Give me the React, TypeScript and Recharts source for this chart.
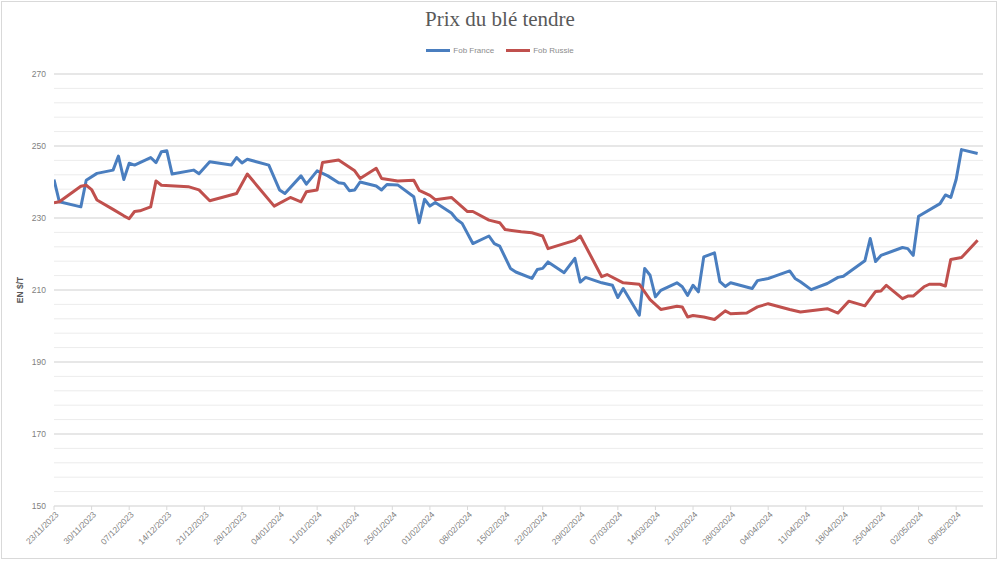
import React from 'react';
import { LineChart, Line, XAxis, YAxis, CartesianGrid, ReferenceLine } from 'recharts';

const franceDates = [
  '2023-11-23','2023-11-24','2023-11-28','2023-11-29','2023-12-01','2023-12-04','2023-12-05','2023-12-06','2023-12-07','2023-12-08',
  '2023-12-11','2023-12-12','2023-12-13','2023-12-14','2023-12-15','2023-12-19','2023-12-20','2023-12-22','2023-12-26','2023-12-27',
  '2023-12-28','2023-12-29','2024-01-02','2024-01-04','2024-01-05','2024-01-08','2024-01-09','2024-01-11','2024-01-13','2024-01-15',
  '2024-01-16','2024-01-17','2024-01-18','2024-01-19','2024-01-22','2024-01-23','2024-01-24','2024-01-26','2024-01-29','2024-01-30',
  '2024-01-31','2024-02-01','2024-02-02','2024-02-05','2024-02-06','2024-02-07','2024-02-09','2024-02-12','2024-02-13','2024-02-14',
  '2024-02-16','2024-02-17','2024-02-20','2024-02-21','2024-02-22','2024-02-23','2024-02-26','2024-02-28','2024-02-29','2024-03-01',
  '2024-03-04','2024-03-06','2024-03-07','2024-03-08','2024-03-11','2024-03-12','2024-03-13','2024-03-14','2024-03-15','2024-03-18',
  '2024-03-19','2024-03-20','2024-03-21','2024-03-22','2024-03-23','2024-03-25','2024-03-26','2024-03-27','2024-03-28','2024-04-01',
  '2024-04-02','2024-04-04','2024-04-05','2024-04-08','2024-04-09','2024-04-10','2024-04-12','2024-04-15','2024-04-17','2024-04-18',
  '2024-04-22','2024-04-23','2024-04-24','2024-04-25','2024-04-29','2024-04-30','2024-05-01','2024-05-02','2024-05-06','2024-05-07',
  '2024-05-08','2024-05-09','2024-05-10','2024-05-13',
];
const franceValues = [
  240.7,234.5,233.1,240.5,242.4,243.3,247.2,240.7,245.2,244.7,
  246.8,245.4,248.4,248.7,242.2,243.3,242.3,245.6,244.7,246.8,
  245.3,246.3,244.7,237.8,236.8,241.7,239.4,243.1,241.7,239.8,
  239.6,237.6,237.8,240.0,238.9,237.8,239.3,239.2,235.9,228.7,
  235.2,233.3,234.3,231.4,229.6,228.5,222.9,225.0,222.9,222.2,
  216.0,215.0,213.2,215.7,216.0,217.8,214.8,218.8,212.2,213.5,
  212.0,211.3,207.9,210.4,203.0,216.0,214.1,208.1,209.9,212.0,
  210.9,208.5,211.3,209.5,219.2,220.3,212.3,211.0,212.0,210.4,
  212.6,213.2,213.7,215.3,213.2,212.3,210.1,211.8,213.5,213.8,
  218.1,224.3,217.9,219.6,221.8,221.5,219.6,230.5,234.0,236.4,
  235.7,240.7,249.0,247.9,
];

const russiaDates = [
  '2023-11-23','2023-11-24','2023-11-28','2023-11-29','2023-11-30','2023-12-01','2023-12-04','2023-12-06','2023-12-07','2023-12-08',
  '2023-12-09','2023-12-11','2023-12-12','2023-12-13','2023-12-18','2023-12-20','2023-12-22','2023-12-27','2023-12-29','2024-01-03',
  '2024-01-06','2024-01-08','2024-01-09','2024-01-11','2024-01-12','2024-01-15','2024-01-18','2024-01-19','2024-01-22','2024-01-23',
  '2024-01-26','2024-01-29','2024-01-30','2024-02-01','2024-02-02','2024-02-05','2024-02-08','2024-02-09','2024-02-12','2024-02-14',
  '2024-02-15','2024-02-18','2024-02-20','2024-02-22','2024-02-23','2024-02-26','2024-02-28','2024-02-29','2024-03-04','2024-03-05',
  '2024-03-08','2024-03-11','2024-03-13','2024-03-15','2024-03-18','2024-03-19','2024-03-20','2024-03-21','2024-03-23','2024-03-25',
  '2024-03-27','2024-03-28','2024-03-31','2024-04-02','2024-04-04','2024-04-08','2024-04-10','2024-04-15','2024-04-17','2024-04-19',
  '2024-04-22','2024-04-24','2024-04-25','2024-04-26','2024-04-29','2024-04-30','2024-05-01','2024-05-03','2024-05-04','2024-05-06',
  '2024-05-07','2024-05-08','2024-05-10','2024-05-13',
];
const russiaValues = [
  234.2,234.5,238.8,239.1,237.9,235.0,232.4,230.6,229.8,231.8,
  232.0,233.1,240.3,239.1,238.7,237.8,234.8,236.8,242.2,233.3,
  235.7,234.5,237.3,237.8,245.4,246.1,243.1,241.0,243.8,241.0,
  240.3,240.5,237.7,236.3,235.1,235.7,231.8,231.8,229.4,228.7,
  226.8,226.2,225.9,225.0,221.5,222.9,223.8,225.0,213.7,214.3,
  212.0,211.6,207.3,204.6,205.5,205.3,202.5,202.9,202.5,201.8,
  204.2,203.4,203.6,205.3,206.2,204.6,203.9,204.8,203.6,206.9,
  205.6,209.6,209.7,211.3,207.6,208.3,208.3,210.9,211.6,211.6,
  211.1,218.5,219.0,223.8,
];

const seriesNames = ['Fob France', 'Fob Russie'];
const seriesColors = ['#4a7ebf', '#c0504d'];
const yMajorTicks = [150, 170, 190, 210, 230, 250, 270];
const yMinorTicks = [150,154,158,162,166,170,174,178,182,186,190,194,198,202,206,210,214,218,222,226,230,234,238,242,246,250,254,258,262,266,270];
const startDate = '2023-11-23';
const tickDates = [
  '2023-11-23','2023-11-30','2023-12-07','2023-12-14','2023-12-21','2023-12-28','2024-01-04','2024-01-11','2024-01-18',
  '2024-01-25','2024-02-01','2024-02-08','2024-02-15','2024-02-22','2024-02-29','2024-03-07','2024-03-14','2024-03-21',
  '2024-03-28','2024-04-04','2024-04-11','2024-04-18','2024-04-25','2024-05-02','2024-05-09',
];

const DAY = 86400000;
const toUTC = (s: string) => {
  const [y, m, d] = s.split('-').map(Number);
  return Date.UTC(y, m - 1, d);
};
const base = toUTC(startDate);
const dayIndex = (s: string) => Math.round((toUTC(s) - base) / DAY);
const fmtDay = (n: number) => {
  const dt = new Date(base + n * DAY);
  const dd = String(dt.getUTCDate()).padStart(2, '0');
  const mm = String(dt.getUTCMonth() + 1).padStart(2, '0');
  return `${dd}/${mm}/${dt.getUTCFullYear()}`;
};

const franceData = franceDates.map((d, i) => ({ d: dayIndex(d), v: franceValues[i] }));
const russiaData = russiaDates.map((d, i) => ({ d: dayIndex(d), v: russiaValues[i] }));
const xTicks = tickDates.map(dayIndex);

const FONT = '"Liberation Sans", Arial, sans-serif';

const DateTick = (props: any) => {
  const { x, y, payload } = props;
  const ax = x + 3;
  const ay = y + 1;
  return (
    <text
      x={ax}
      y={ay}
      transform={`rotate(-45 ${ax} ${ay})`}
      textAnchor="end"
      fontSize={8.5}
      fontFamily={FONT}
      fill="#7f7f7f"
      dy={3}
    >
      {fmtDay(payload.value)}
    </text>
  );
};

export default function App() {
  return (
    <div
      style={{
        position: 'absolute',
        left: 0,
        top: 0,
        width: 1000,
        height: 562,
        background: '#fff',
        fontFamily: FONT,
      }}
    >
      <div
        style={{
          position: 'absolute',
          left: 1,
          top: 1,
          width: 996,
          height: 558,
          border: '1px solid #d9d9d9',
          boxSizing: 'border-box',
        }}
      />
      <div
        style={{
          position: 'absolute',
          left: 0,
          top: 7,
          width: 1000,
          textAlign: 'center',
          fontFamily: '"Liberation Serif", "DejaVu Serif", serif',
          fontSize: 21,
          color: '#595959',
        }}
      >
        Prix du blé tendre
      </div>
      <div
        style={{
          position: 'absolute',
          left: 0,
          top: 46,
          width: 1000,
          display: 'flex',
          justifyContent: 'center',
          gap: 12,
          fontSize: 8,
          color: '#8c8c8c',
        }}
      >
        {seriesNames.map((n, i) => (
          <div key={n} style={{ display: 'flex', alignItems: 'center' }}>
            <span
              style={{
                display: 'inline-block',
                width: 24,
                height: 3,
                background: seriesColors[i],
                marginRight: 3,
              }}
            />
            <span>{n}</span>
          </div>
        ))}
      </div>
      <div
        style={{
          position: 'absolute',
          left: 20,
          top: 290,
          transform: 'translate(-50%, -50%) rotate(-90deg)',
          fontSize: 8.5,
          fontWeight: 'bold',
          color: '#595959',
          whiteSpace: 'nowrap',
        }}
      >
        EN $/T
      </div>
      <div style={{ position: 'absolute', left: 0, top: 0 }}>
        <LineChart
          width={1000}
          height={562}
          margin={{ top: 74, right: 17, bottom: 0, left: 0 }}
        >
          <CartesianGrid horizontal stroke="#ececec" vertical={false} />
          <XAxis
            dataKey="d"
            type="number"
            domain={[0, 173]}
            ticks={xTicks}
            interval={0}
            allowDataOverflow
            height={56}
            tickSize={4}
            tickMargin={2}
            stroke="#d9d9d9"
            tick={<DateTick />}
          />
          <YAxis
            type="number"
            domain={[150, 270]}
            ticks={yMinorTicks}
            interval={0}
            width={54}
            axisLine={false}
            tickLine={false}
            tick={{ fontSize: 8.5, fill: '#7f7f7f', fontFamily: FONT }}
            tickFormatter={(v: number) => (yMajorTicks.includes(v) ? String(v) : '')}
          />
          {yMajorTicks.slice(1).map((t) => (
            <ReferenceLine key={t} y={t} stroke="#d9d9d9" strokeWidth={1} ifOverflow="extendDomain" />
          ))}
          <Line
            data={franceData}
            dataKey="v"
            name={seriesNames[0]}
            stroke={seriesColors[0]}
            strokeWidth={3}
            dot={false}
            isAnimationActive={false}
            strokeLinejoin="round"
          />
          <Line
            data={russiaData}
            dataKey="v"
            name={seriesNames[1]}
            stroke={seriesColors[1]}
            strokeWidth={3}
            dot={false}
            isAnimationActive={false}
            strokeLinejoin="round"
          />
        </LineChart>
      </div>
    </div>
  );
}
